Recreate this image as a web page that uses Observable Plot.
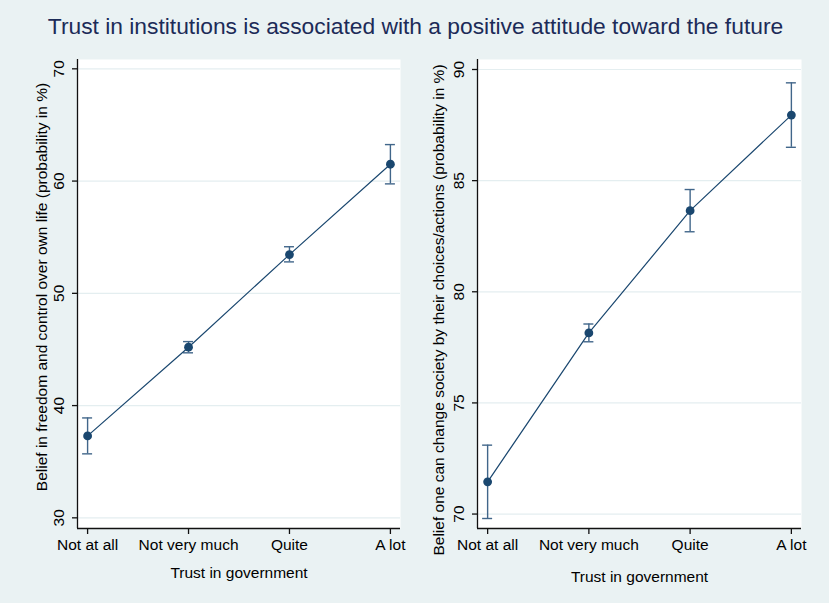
<!DOCTYPE html>
<html>
<head>
<meta charset="utf-8">
<script src="https://cdn.jsdelivr.net/npm/d3@7"></script>
<script src="https://cdn.jsdelivr.net/npm/@observablehq/plot@0.6"></script>
<style>
  body { margin: 0; background: #eaf2f3; }
  #chart {
    position: relative; width: 829px; height: 603px; overflow: hidden;
    background: #eaf2f3; font-family: "Liberation Sans", Arial, sans-serif;
  }
  #title {
    position: absolute; left: 0; top: 13px; width: 831px; text-align: center;
    font-size: 22.8px; line-height: 1.15; color: #1c2b58; white-space: nowrap; z-index: 2;
  }
  .panel { position: absolute; top: 50px; }
</style>
</head>
<body>
<div id="chart">
  <div id="title">Trust in institutions is associated with a positive attitude toward the future</div>
</div>
<script>
// Predictive margins by level of trust in government, with 95% confidence intervals
const trustLevels = ["Not at all", "Not very much", "Quite", "A lot"];

const freedomMean = [37.3, 45.2, 53.45, 61.5];
const freedomLow  = [35.7, 44.7, 52.8, 59.75];
const freedomHigh = [38.9, 45.7, 54.15, 63.25];
const freedomTicks = [30, 40, 50, 60, 70];

const societyMean = [71.45, 78.15, 83.65, 87.95];
const societyLow  = [69.8, 77.75, 82.7, 86.5];
const societyHigh = [73.1, 78.55, 84.6, 89.4];
const societyTicks = [70, 75, 80, 85, 90];

const navy = "#1a476f";
const capColor = "#41668a";
const gridColor = "#e4eef0";
const font = "'Liberation Sans', Arial, sans-serif";

function panel({mean, low, high, ticks, yDomain, yLabel, left, width,
                marginLeft, marginRight, labelDx, labelDy, xLabelDy}) {
  const rows = trustLevels.map((t, i) => ({i, t, mean: mean[i], low: low[i], high: high[i]}));
  const xDomain = [-0.1, trustLevels.length - 0.9];
  const svg = Plot.plot({
    width, height: 553,
    marginTop: 9, marginBottom: 75, marginLeft, marginRight,
    style: {background: "transparent", fontFamily: font, fontSize: "15.5px", color: "#000", overflow: "visible"},
    x: {domain: xDomain, axis: null},
    y: {domain: yDomain, axis: null},
    marks: [
      Plot.frame({fill: "white", stroke: null}),
      Plot.gridY(ticks, {stroke: gridColor, strokeOpacity: 1, strokeWidth: 1.2}),
      Plot.ruleX([xDomain[0]], {stroke: "#111", strokeWidth: 1.3}),
      Plot.ruleY([yDomain[0]], {stroke: "#111", strokeWidth: 1.3}),
      Plot.axisX(trustLevels.map((_, i) => i), {
        tickSize: 6, tickPadding: 4, tickFormat: i => trustLevels[i],
        label: null, stroke: "#111", strokeWidth: 1.3, fill: "#000"
      }),
      Plot.axisY(ticks, {
        tickSize: 5, tickPadding: 9, tickRotate: -90, label: null, stroke: "#111", strokeWidth: 1.3, fill: "#000"
      }),
      Plot.text([yLabel], {frameAnchor: "left", textAnchor: "middle", rotate: -90, dx: labelDx, dy: labelDy, fill: "#000"}),
      Plot.text(["Trust in government"], {frameAnchor: "bottom", textAnchor: "middle", dy: xLabelDy, fill: "#000"}),
      // confidence intervals as capped spikes
      Plot.ruleX(rows, {x: "i", y1: "low", y2: "high", stroke: capColor, strokeWidth: 1.4}),
      Plot.ruleY(rows, {x1: "i", x2: "i", y: "low", insetLeft: -5, insetRight: -5, stroke: capColor, strokeWidth: 1.4}),
      Plot.ruleY(rows, {x1: "i", x2: "i", y: "high", insetLeft: -5, insetRight: -5, stroke: capColor, strokeWidth: 1.4}),
      Plot.line(rows, {x: "i", y: "mean", stroke: navy, strokeWidth: 1.2}),
      Plot.dot(rows, {x: "i", y: "mean", r: 4.4, fill: navy, stroke: null})
    ]
  });
  svg.classList.add("panel");
  svg.style.left = left + "px";
  document.getElementById("chart").appendChild(svg);
}

panel({
  mean: freedomMean, low: freedomLow, high: freedomHigh, ticks: freedomTicks,
  yDomain: [29.05, 70.83],
  yLabel: "Belief in freedom and control over own life (probability in %)",
  left: 0, width: 410, marginLeft: 77, marginRight: 10,
  labelDx: -35, labelDy: -7, xLabelDy: 49
});

panel({
  mean: societyMean, low: societyLow, high: societyHigh, ticks: societyTicks,
  yDomain: [69.35, 90.45],
  yLabel: "Belief one can change society by their choices/actions (probability in %)",
  left: 410, width: 419, marginLeft: 67, marginRight: 28,
  labelDx: -38, labelDy: 16, xLabelDy: 53
});
</script>
</body>
</html>
